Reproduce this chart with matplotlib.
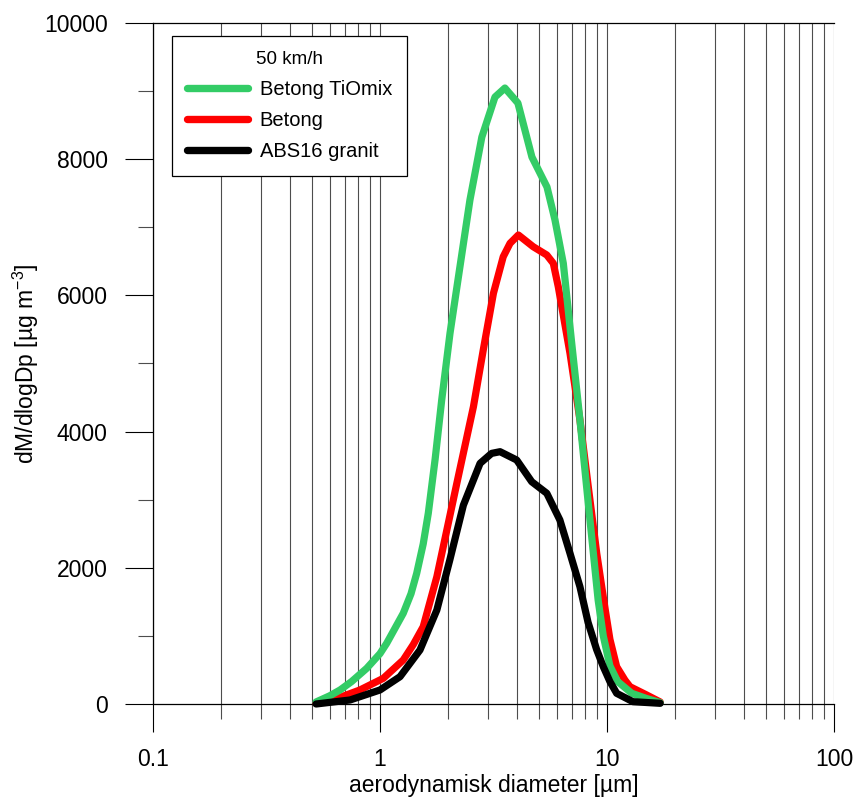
import matplotlib
matplotlib.use("Agg")
import matplotlib.pyplot as plt
from matplotlib import ticker as mticker

plt.rcParams['font.family'] = ['Liberation Sans', 'DejaVu Sans']

# aerodynamic diameter [um] and dM/dlogDp [ug m-3]
tiomix_x = [0.523, 0.60, 0.667, 0.75, 0.874, 1.0, 1.07, 1.15, 1.266, 1.37,
            1.451, 1.55, 1.632, 1.75, 1.87, 2.034, 2.25, 2.49, 2.81, 3.21,
            3.55, 4.05, 4.67, 5.44, 5.90, 6.42, 6.99, 7.60, 8.27, 9.14, 9.63,
            10.3, 11.14, 12.86, 14.86, 17.15]
tiomix_y = [30, 120, 206, 330, 524, 740, 891, 1080, 1332, 1620,
            1919, 2350, 2800, 3600, 4464, 5443, 6421, 7401, 8326, 8913,
            9045, 8825, 8032, 7592, 7107, 6471, 5300, 4170, 2947, 1527, 1000,
            560, 330, 157, 83, 20]

betong_x = [0.523, 0.62, 0.816, 1.034, 1.266, 1.40, 1.55, 1.78, 2.18, 2.58,
            2.85, 3.16, 3.49, 3.74, 4.07, 4.73, 5.43, 5.80, 6.10, 6.87, 7.60,
            8.27, 9.01, 9.7, 10.3, 11.03, 12.0, 12.63, 14.96, 17.15]
betong_y = [10, 59, 206, 377, 646, 870, 1135, 1869, 3241, 4366,
            5198, 6031, 6568, 6765, 6887, 6715, 6593, 6471, 6128, 5150, 4170,
            3191, 2213, 1500, 950, 548, 350, 254, 132, 30]

granit_x = [0.523, 0.738, 1.0, 1.225, 1.50, 1.78, 2.03, 2.33, 2.76, 3.1,
            3.38, 4.0, 4.66, 5.43, 6.2, 6.87, 7.6, 8.25, 9.0, 9.63, 10.3,
            11.03, 13.0, 17.15]
granit_y = [0, 59, 206, 401, 793, 1380, 2115, 2920, 3534, 3680,
            3705, 3583, 3264, 3094, 2702, 2213, 1722, 1200, 800, 548, 330,
            157, 34, 10]

series = [
    ("Betong TiOmix", tiomix_x, tiomix_y, "#33cc66", 4),
    ("Betong", betong_x, betong_y, "#ff0000", 3),
    ("ABS16 granit", granit_x, granit_y, "#000000", 5),
]

fig = plt.figure(figsize=(8.59, 8.09), dpi=100)
ax = fig.add_axes([153 / 859, 1 - 704 / 809, 681 / 859, 681 / 809])

for label, xs, ys, color, z in series:
    ax.plot(xs, ys, color=color, lw=5.2, label=label, zorder=z,
            solid_capstyle='round', solid_joinstyle='round', clip_on=False)

ax.set_xscale('log')
ax.set_xlim(0.1, 100)
ax.set_ylim(0, 10000)

ax.xaxis.set_major_locator(mticker.FixedLocator([0.1, 1, 10, 100]))
ax.xaxis.set_major_formatter(mticker.FixedFormatter(["0.1", "1", "10", "100"]))
ax.xaxis.set_minor_locator(mticker.LogLocator(base=10, subs=range(2, 10)))
ax.xaxis.set_minor_formatter(mticker.NullFormatter())

ax.yaxis.set_major_locator(mticker.MultipleLocator(2000))
ax.yaxis.set_minor_locator(mticker.MultipleLocator(1000))

ax.tick_params(which='major', direction='out', length=20.5, width=0.8,
               labelsize=16.5, pad=11, color='k')
ax.tick_params(which='minor', direction='out', length=10.5, width=0.8,
               color='0.3')
ax.tick_params(axis='y', which='major', pad=12)

ax.grid(which='both', axis='x', color='0.3', lw=0.8)
ax.set_axisbelow(True)

ax.spines['right'].set_visible(False)
for s in ['left', 'top', 'bottom']:
    ax.spines[s].set_linewidth(0.9)

ax.set_xlabel("aerodynamisk diameter [µm]", fontsize=16.5, labelpad=2)
ax.set_ylabel("dM/dlogDp [µg m$^{\\mathregular{-3}}$]", fontsize=16.5, labelpad=2)

leg = ax.legend(loc='upper left', bbox_to_anchor=(0.028, 0.981),
                borderaxespad=0, fontsize=14.5, title="50 km/h",
                title_fontsize=13.5, handlelength=3.0, handletextpad=0.6,
                labelspacing=0.6, borderpad=0.75, fancybox=False,
                edgecolor='k', framealpha=1)
leg.get_frame().set_linewidth(0.9)
for line in leg.get_lines():
    line.set_linewidth(5.3)
    line.set_solid_capstyle('round')

fig.savefig("out.png", dpi=100)
